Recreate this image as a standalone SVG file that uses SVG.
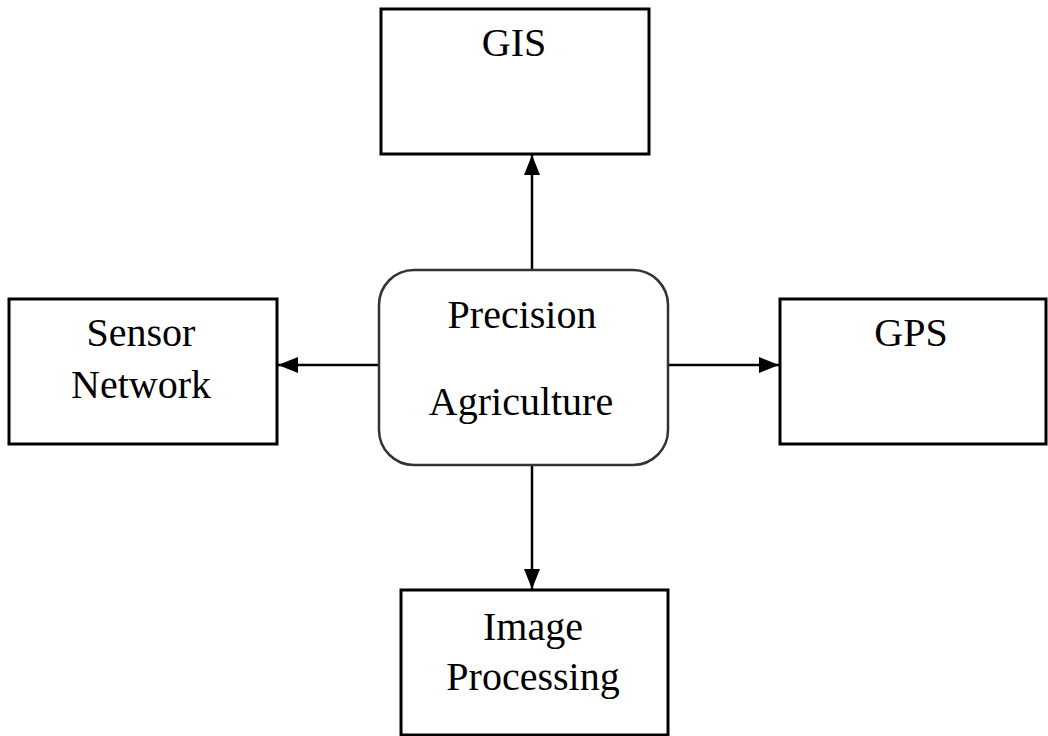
<svg xmlns="http://www.w3.org/2000/svg" width="1048" height="736" viewBox="0 0 1048 736">
<style>
.box{fill:#fff;stroke:#000;stroke-width:3}
.rbox{fill:#fff;stroke:#333;stroke-width:2.5}
.lbl{font-family:"Liberation Serif","Times New Roman",serif;font-size:40px;fill:#000;text-anchor:middle}
.con{stroke:#000;stroke-width:2.5;fill:none;marker-end:url(#ah)}
</style>
<defs>
<marker id="ah" viewBox="0 0 20 16" refX="20" refY="8" markerWidth="20" markerHeight="16" markerUnits="userSpaceOnUse" orient="auto">
<path d="M0,0 L20,8 L0,16 z" fill="#000"/>
</marker>
</defs>
<rect width="1048" height="736" fill="#fff"/>
<g id="connectors">
<line class="con" x1="532" y1="269" x2="532" y2="155"/>
<line class="con" x1="378" y1="365" x2="278" y2="365"/>
<line class="con" x1="668" y1="365" x2="779" y2="365"/>
<line class="con" x1="532" y1="466" x2="532" y2="589"/>
</g>
<g id="gis">
<rect class="box" x="381" y="9" width="268" height="145"/>
<text class="lbl" x="514" y="56">GIS</text>
</g>
<g id="precision">
<rect class="rbox" x="379" y="270" width="289" height="195" rx="35" ry="35"/>
<text class="lbl" x="522" y="328">Precision</text>
<text class="lbl" x="521" y="415">Agriculture</text>
</g>
<g id="sensor">
<rect class="box" x="9" y="299" width="268" height="145"/>
<text class="lbl" x="141" y="346">Sensor</text>
<text class="lbl" x="141" y="398">Network</text>
</g>
<g id="gps">
<rect class="box" x="780" y="299" width="266" height="145"/>
<text class="lbl" x="911" y="346">GPS</text>
</g>
<g id="image">
<rect class="box" x="401" y="590" width="267" height="145"/>
<text class="lbl" x="533" y="640">Image</text>
<text class="lbl" x="533" y="690">Processing</text>
</g>
</svg>
